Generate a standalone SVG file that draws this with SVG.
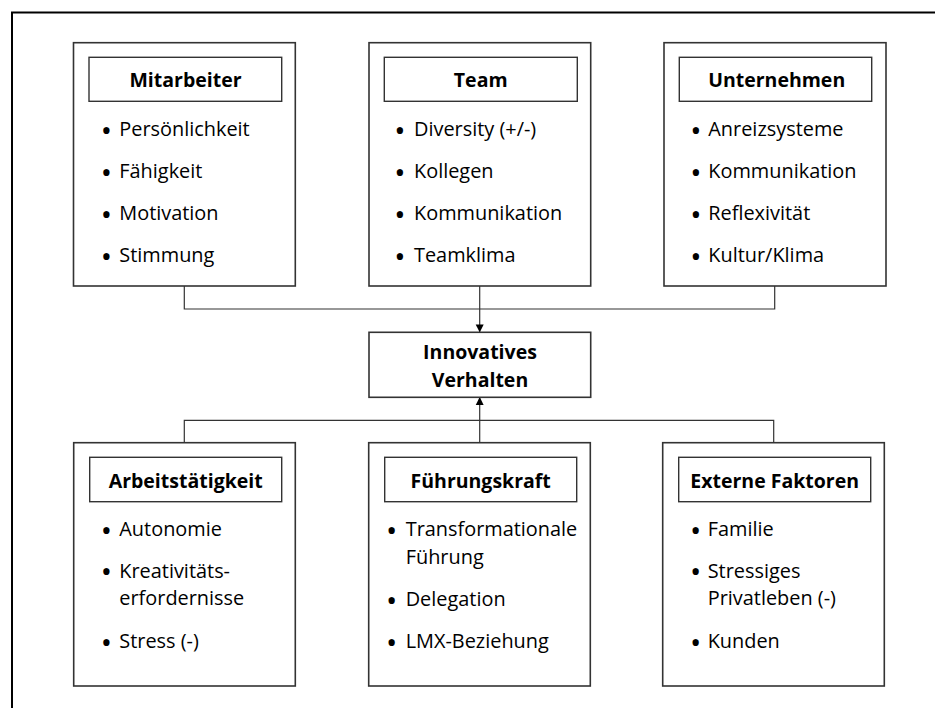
<svg xmlns="http://www.w3.org/2000/svg" width="935" height="708" viewBox="0 0 935 708">
<style>
.frame{fill:none;stroke:#000;stroke-width:2}
.box{fill:#fff;stroke:#333;stroke-width:1.6}
.hdr{fill:#fff;stroke:#333;stroke-width:1.4}
.con{fill:none;stroke:#333;stroke-width:1.2}
text{font-family:"Open Sans","Noto Sans","Liberation Sans",sans-serif;fill:#000}
.h{font-weight:bold;font-size:19.5px;text-anchor:middle}
.t{font-size:19.9px}
.b{font-size:30px;text-anchor:middle}
</style>
<defs>
<marker id="ah" markerWidth="8" markerHeight="9" refX="7.6" refY="4.5" orient="auto" markerUnits="userSpaceOnUse">
<path d="M0,0.5 L8,4.5 L0,8.5 Z" fill="#000"/>
</marker>
</defs>
<rect width="935" height="708" fill="#fff"/>
<rect class="frame" x="12" y="12.5" width="940" height="710"/>

<g id="connectors">
<path class="con" d="M184.3,286 V309 H774.7 V286"/>
<path class="con" d="M479.7,286 V332" marker-end="url(#ah)"/>
<path class="con" d="M184.3,442.7 V420.3 H773.7 V442.7"/>
<path class="con" d="M479.7,442.7 V397.5" marker-end="url(#ah)"/>
</g>

<g id="mitarbeiter">
<rect class="box" x="73.5" y="42.7" width="221.8" height="243.3"/>
<rect class="hdr" x="89" y="57.3" width="192.7" height="44"/>
<text class="h" x="185.5" y="87.3">Mitarbeiter</text>
<text class="b" x="106.5" y="140.5">•</text><text class="t" x="119.3" y="136">Persönlichkeit</text>
<text class="b" x="106.5" y="182.5">•</text><text class="t" x="119.3" y="178">Fähigkeit</text>
<text class="b" x="106.5" y="224.5">•</text><text class="t" x="119.3" y="220">Motivation</text>
<text class="b" x="106.5" y="266.5">•</text><text class="t" x="119.3" y="262">Stimmung</text>
</g>

<g id="team">
<rect class="box" x="369" y="42.7" width="221.7" height="243.3"/>
<rect class="hdr" x="384.3" y="57.3" width="193" height="44"/>
<text class="h" x="480.7" y="87.3">Team</text>
<text class="b" x="400" y="140.5">•</text><text class="t" x="414" y="136">Diversity (+/-)</text>
<text class="b" x="400" y="182.5">•</text><text class="t" x="414" y="178">Kollegen</text>
<text class="b" x="400" y="224.5">•</text><text class="t" x="414" y="220">Kommunikation</text>
<text class="b" x="400" y="266.5">•</text><text class="t" x="414" y="262">Teamklima</text>
</g>

<g id="unternehmen">
<rect class="box" x="664" y="42.7" width="222" height="243.3"/>
<rect class="hdr" x="679.3" y="57.3" width="192.4" height="44"/>
<text class="h" x="776.7" y="87.3">Unternehmen</text>
<text class="b" x="696" y="140.5">•</text><text class="t" x="708.3" y="136">Anreizsysteme</text>
<text class="b" x="696" y="182.5">•</text><text class="t" x="708.3" y="178">Kommunikation</text>
<text class="b" x="696" y="224.5">•</text><text class="t" x="708.3" y="220">Reflexivität</text>
<text class="b" x="696" y="266.5">•</text><text class="t" x="708.3" y="262">Kultur/Klima</text>
</g>

<g id="innovatives-verhalten">
<rect class="box" x="369" y="332.3" width="221.7" height="65"/>
<text class="h" x="480" y="359">Innovatives</text>
<text class="h" x="480" y="386.7">Verhalten</text>
</g>

<g id="arbeitstaetigkeit">
<rect class="box" x="73.7" y="442.7" width="221.6" height="243.3"/>
<rect class="hdr" x="89.7" y="457.3" width="192" height="44.4"/>
<text class="h" x="185.7" y="488.3">Arbeitstätigkeit</text>
<text class="b" x="106.5" y="540.5">•</text><text class="t" x="119.3" y="536">Autonomie</text>
<text class="b" x="106.5" y="582.2">•</text><text class="t" x="119.3" y="577.7">Kreativitäts-</text>
<text class="t" x="119.3" y="605">erfordernisse</text>
<text class="b" x="106.5" y="652.8">•</text><text class="t" x="119.3" y="648.3">Stress (-)</text>
</g>

<g id="fuehrungskraft">
<rect class="box" x="368.7" y="442.7" width="221.6" height="243.3"/>
<rect class="hdr" x="384.7" y="457.3" width="192" height="44.4"/>
<text class="h" x="480.7" y="488.3">Führungskraft</text>
<text class="b" x="391.7" y="540.5">•</text><text class="t" x="405.7" y="536">Transformationale</text>
<text class="t" x="405.7" y="564">Führung</text>
<text class="b" x="391.7" y="610.5">•</text><text class="t" x="405.7" y="606">Delegation</text>
<text class="b" x="391.7" y="652.8">•</text><text class="t" x="405.7" y="648.3">LMX-Beziehung</text>
</g>

<g id="externe-faktoren">
<rect class="box" x="662.7" y="442.7" width="221.6" height="243.3"/>
<rect class="hdr" x="678.7" y="457.3" width="192" height="44.4"/>
<text class="h" x="774.7" y="488.3">Externe Faktoren</text>
<text class="b" x="695.7" y="540.5">•</text><text class="t" x="707.7" y="536">Familie</text>
<text class="b" x="695.7" y="582.2">•</text><text class="t" x="707.7" y="577.7">Stressiges</text>
<text class="t" x="707.7" y="605">Privatleben (-)</text>
<text class="b" x="695.7" y="652.8">•</text><text class="t" x="707.7" y="648.3">Kunden</text>
</g>
</svg>
